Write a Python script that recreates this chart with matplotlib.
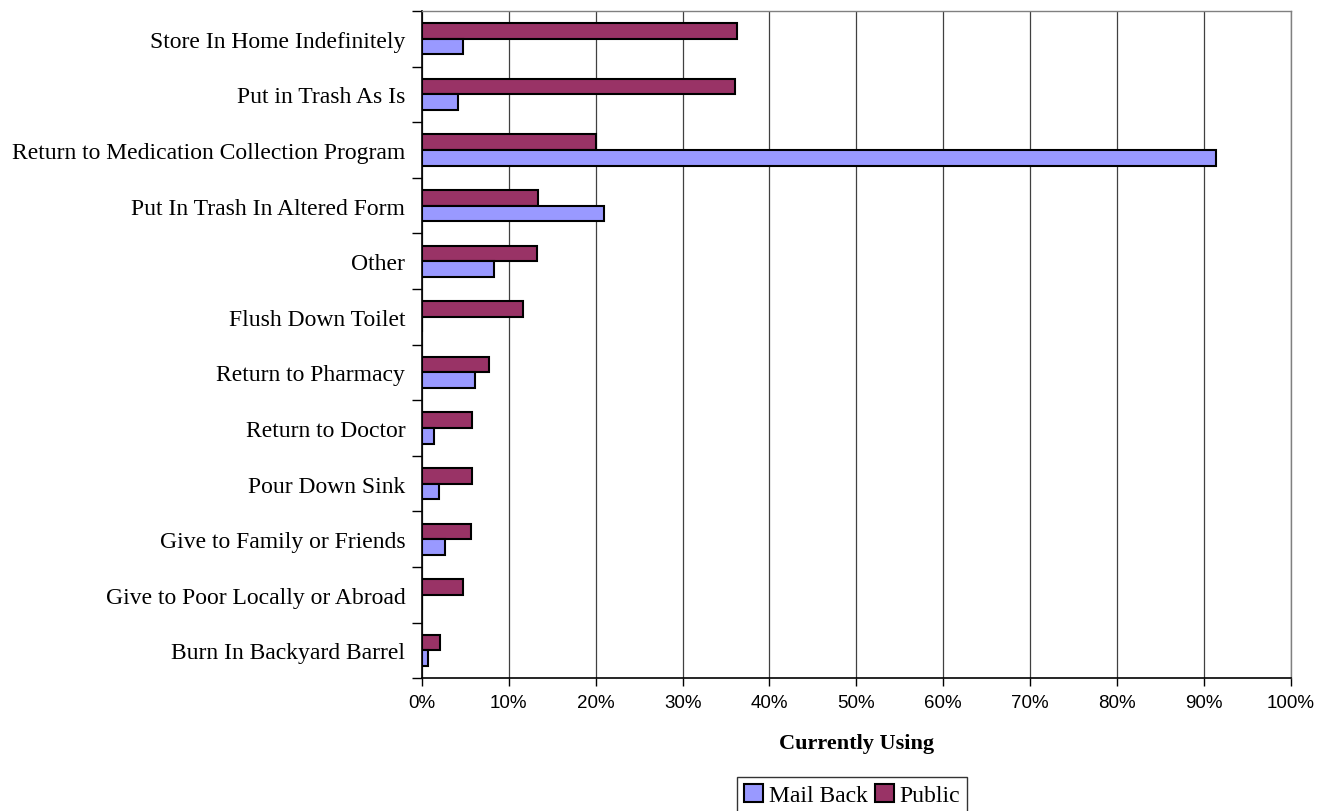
import matplotlib
matplotlib.use("Agg")
import matplotlib.pyplot as plt
from matplotlib.patches import Patch
from matplotlib.ticker import FuncFormatter, FixedLocator
import numpy as np

categories = [
    "Store In Home Indefinitely",
    "Put in Trash As Is",
    "Return to Medication Collection Program",
    "Put In Trash In Altered Form",
    "Other",
    "Flush Down Toilet",
    "Return to Pharmacy",
    "Return to Doctor",
    "Pour Down Sink",
    "Give to Family or Friends",
    "Give to Poor Locally or Abroad",
    "Burn In Backyard Barrel",
]
# percent of respondents currently using each method
public = [36.3, 36.0, 20.0, 13.3, 13.2, 11.6, 7.7, 5.7, 5.7, 5.6, 4.7, 2.1]
mail_back = [4.75, 4.1, 91.4, 20.9, 8.3, 0.0, 6.1, 1.4, 2.0, 2.7, 0.0, 0.7]

serif = "Liberation Serif"
sans = "Liberation Sans"
mail_color = "#9999FF"
public_color = "#993366"

fig = plt.figure(figsize=(13.28, 8.12), dpi=100)
ax = fig.add_axes([422 / 1328, 1 - 679.3 / 812, (1290.7 - 422) / 1328, (679.3 - 12) / 812])

y = np.arange(len(categories))
h = 0.28
ax.barh(y - h / 2, public, height=h, color=public_color, edgecolor="black", linewidth=1.5, zorder=3)
ax.barh(y + h / 2, mail_back, height=h, color=mail_color, edgecolor="black", linewidth=1.5, zorder=3)

ax.set_xlim(0, 100)
ax.set_ylim(len(categories) - 0.5, -0.5)

ax.set_xticks(np.arange(0, 101, 10))
ax.xaxis.set_major_formatter(FuncFormatter(lambda v, p: f"{v:.0f}%"))
for t in ax.get_xticklabels():
    t.set_fontfamily(sans)
    t.set_fontsize(13.5)
ax.tick_params(axis="x", direction="out", length=6, width=1, pad=5, colors="black")
ax.grid(axis="x", color="#404040", linewidth=0.9, zorder=0)

# category labels sit between the tick marks
ax.yaxis.set_major_locator(FixedLocator(np.arange(-0.5, len(categories), 1.0)))
ax.yaxis.set_major_formatter(FuncFormatter(lambda v, p: ""))
ax.yaxis.set_minor_locator(FixedLocator(y))
ax.set_yticklabels(categories, minor=True, fontfamily=serif, fontsize=17)
ax.tick_params(axis="y", which="major", direction="out", length=7, width=1)
ax.tick_params(axis="y", which="minor", length=0, pad=12)

for side in ["left", "bottom"]:
    ax.spines[side].set_color("black")
    ax.spines[side].set_linewidth(1.2)
for side in ["top", "right"]:
    ax.spines[side].set_color("#808080")
    ax.spines[side].set_linewidth(1.0)

ax.set_xlabel("Currently Using", fontfamily=serif, fontsize=16, fontweight="bold", labelpad=16)

handles = [
    Patch(facecolor=mail_color, edgecolor="black", linewidth=1.5, label="Mail Back"),
    Patch(facecolor=public_color, edgecolor="black", linewidth=1.5, label="Public"),
]
fig.legend(handles=handles, loc="upper center", bbox_to_anchor=(852 / 1328, 1 - 778 / 812),
           ncol=2, frameon=True, fancybox=False, edgecolor="black",
           prop={"family": serif, "size": 17}, handlelength=0.8, handleheight=0.8,
           handletextpad=0.25, columnspacing=0.3, borderpad=0.3, borderaxespad=0)

fig.savefig("out.png", dpi=100)
